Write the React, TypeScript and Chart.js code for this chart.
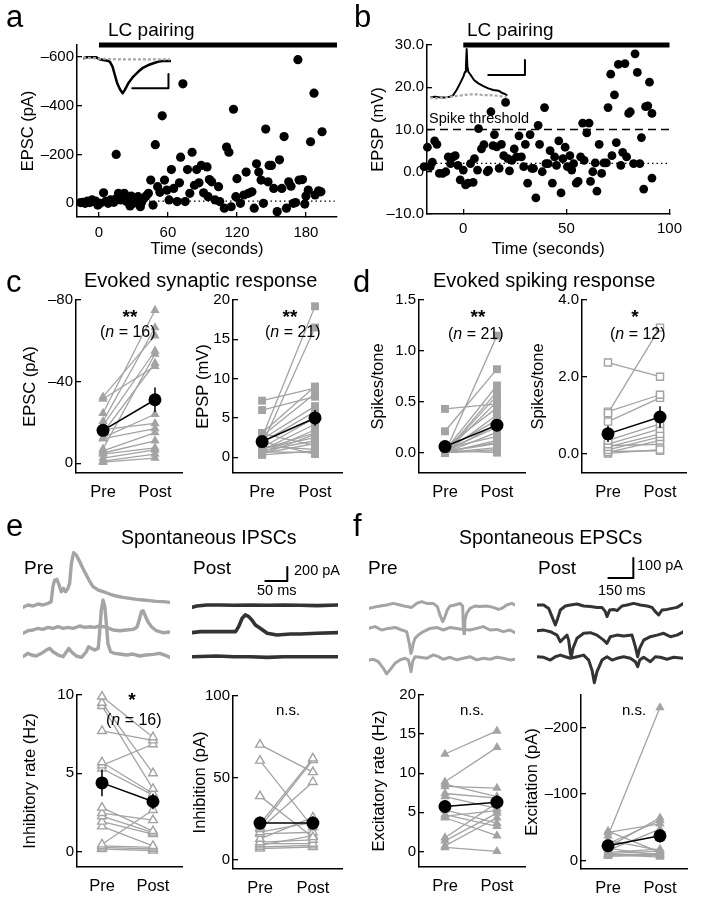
import React, { useEffect, useMemo, useRef } from "react";
import { Chart, registerables } from "chart.js";

Chart.register(...registerables);

const FONT = "'Liberation Sans', Arial, Helvetica, sans-serif";
const GREY = "#a3a3a3";
const PRE_TRACE = "#a4a4a4";
const POST_TRACE = "#333333";

// ================= Panel a: EPSC over time =================
const aTime = [-16,-14,-12,-10,-8,-6,-4,-3,-1,1,4,6,8,10,13,14,15,17,19,22,24,26,27,28,30,31,34,36,37,39,41,43,45,47,49,51,53,55,57,59,61,63,65,68,70,71,73,75,77,79,81,83,85,87,89,91,94,95,96,98,101,104,105,109,111,113,115,117,119,120,123,126,128,130,133,135,137,139,141,143,145,147,148,150,152,155,157,159,161,163,165,167,169,171,173,174,177,179,180,182,184,187,188,191,193,194];
const aEpsc = [-3,-4,0,-9,-3,-14,-7,-9,7,0,-43,-8,0,-14,-4,-16,-200,-41,-14,-41,-7,-16,11,-30,0,-7,-27,14,-3,-20,-30,-41,-95,7,-240,-68,-45,-358,-95,-54,-14,-138,-61,-7,-84,-189,-489,-7,-138,-41,-209,-74,-138,-84,-155,-43,-149,-27,-97,-88,-14,-68,-7,20,-230,-209,14,-385,-27,-101,0,-34,-128,-41,-47,20,-162,-128,-95,0,-304,-88,-155,-155,-61,34,-178,-61,-273,20,-88,-70,0,-3,-588,-95,-97,3,-30,-54,-252,-451,-34,-51,-47,-293];
const aTimeTicks = [0, 60, 120, 180];
const aEpscTicks = [-600, -400, -200, 0];
const aBaseline = -9;
const aPairingStart = 0;
const aPairingEnd = 207;
// inset (ms, pA)
const aInsetPostT = [0,1.9,4.6,7.4,9.3,11.1,13,14.8,16.3,17.6,18.9,20.4,21.9,23.1,25,27.8,30.6,33.3,36.1,38.9,41.7,44.4,47.2,48.1];
const aInsetPostV = [0,7,7,7,-7,-12,-16,-23,-58,-117,-175,-217,-245,-221,-175,-128,-93,-65,-47,-35,-23,-19,-19,-19];
const aInsetPreT = [0,9,19,28,37,48];
const aInsetPreV = [5,-2,-7,-7,-7,-7];
const aInsetBar = { start: 27.2, level: -210, ms: 20, amp: 100 };

// ================= Panel b: EPSP over time =================
const bTime = [-19.6,-19,-17.4,-16,-15,-13.9,-12.8,-11.6,-10,-8.5,-7.3,-6.2,-4.9,-3.9,-2.6,-1.5,0,1.1,2.3,3.5,4.8,5.4,6.9,7.4,8.8,10,11.6,12.3,13.4,14.4,15.1,16.2,17.4,18.5,19.6,20.5,21.6,22.4,23.6,24.7,25.8,27,28.2,29.3,30.1,31.2,32.4,33.2,34,35.2,36.3,37,38.3,39.4,40.1,41.2,42.1,43.2,44.3,45.2,46.3,47.4,48.3,49.4,50.5,51.7,52.6,53.5,54.8,55.7,56.9,57.9,58.6,59.9,61,61.7,62.8,64,64.8,65.9,67.1,68.2,69.4,70.2,71.5,72.1,73.3,74.2,75.2,76.4,77.3,78.4,79.2,80.2,81,82.6,83.3,84.4,85.6,86.4,87.5,88.4,89.5,90.3,91.5,91.5];
const bEpsp = [3.1,1.2,5.8,1.2,2.3,7.3,6.5,-0.4,-0.4,0,3.5,1.9,3.5,3.8,1.5,-1.9,0.4,-3.1,-2.7,1.9,-2.5,3.1,0.4,10.2,5.4,6.4,0,0.4,14.2,6.2,8.8,5.9,0.8,6.5,3.8,16.4,3.1,0.2,2.7,5.4,3.5,8.5,3.5,1.2,6.5,-2.7,8.8,0.8,0.8,-6.2,11,6.5,0,15.2,1.9,1.9,5,-2.7,3.5,1.5,7.3,-5,3.1,5.8,1.2,3.8,0.4,1.9,-2.7,-2.3,3.5,11.5,2.7,9.2,11.5,-2.3,0,2.1,-4.6,6.5,-0.4,2.1,2.1,15.2,23.1,3.8,18.2,6.9,25.4,1.5,4.6,25.6,3.5,13.8,14.2,1.9,27.9,23.5,1.9,8.1,-4.1,15.4,15.6,21.2,13.8,-1.5];
const bTimeTicks = [0, 50, 100];
const bEpspTicks = [-10, 0, 10, 20, 30];
const bBaseline = 2.0;
const bSpikeThreshold = 10;
const bPairingStart = 0;
const bPairingEnd = 100;
// inset (ms, mV)
const bInsetPostT = [0,2.7,5.5,8.2,10.9,12.7,14.5,16.4,18.2,19.1,19.6,20,20.4,20.9,22.2,24,26.4,29.1,31.8,34.5,37.3,39.1,40.9,41.8];
const bInsetPostV = [-0.9,0,-0.9,-0.9,0,2.2,8.9,17.8,26.7,33.3,40,63.6,40,33.3,28.9,22.2,17.8,14.2,11.1,8.9,8,5.3,3.6,2.2];
const bInsetPreT = [0,3.6,7.3,10.9,14.5,18.2,21.8,25.5,29.1,32.7,36.4,40,41.8];
const bInsetPreV = [-0.9,-2.2,-1.3,0,0.9,2.2,3.1,3.1,2.2,2.2,1.3,0,0];
const bInsetBar = { start: 31.8, level: 28.9, ms: 20, amp: 20 };

// ================= Panel c =================
const c1Pre = [-32.5,-31.5,-24.5,-20.5,-18.5,-16.5,-15,-12.5,-12,-7,-6,-5,-4.5,-2.5,-1,-0.5];
const c1Post = [-62.5,-47.5,-75,-66.5,-55,-19.5,-49,-24,-17,-53.5,-15,-11,-7.5,-6.5,-4.5,-2.5];
const c1Mean = [-16.1, -31.1];
const c1Sem = [2.5, 6];
const c2Pre = [7.2,6.0,2.5,1.6,3.1,2.7,2.3,1.9,1.25,0.9,0.6,0.4,1.1,0.8,0.5,3.0,1.4,0.7,2.0,0.3,1.0];
const c2Post = [8.8,7.7,19.2,16.5,9.0,8.1,6.5,5.8,5.0,4.2,3.5,2.9,2.5,2.1,1.75,1.5,1.0,0.6,0.4,0.8,3.1];
const c2Mean = [2.0, 5.0];
const c2Sem = [0.4, 1.0];

// ================= Panel d =================
const d1Pre = [0.43,0.0,0.21,0.02,0.0,0.05,0.0,0.03,0.0,0.02,0.0,0.04,0.0,0.01,0.0,0.0,0.02,0.0,0.0,0.0,0.01];
const d1Post = [0.48,1.15,0.82,0.66,0.56,0.44,0.37,0.32,0.28,0.25,0.2,0.16,0.12,0.09,0.05,0.02,0.0,0.6,0.5,0.03,0.1];
const d1Mean = [0.06, 0.27];
const d1Sem = [0.02, 0.06];
const d2Pre = [2.37,1.05,1.09,0.83,0.34,0.24,0.17,0.09,0.03,0.0,0.2,0.05];
const d2Post = [2.0,3.28,1.53,1.45,0.77,0.64,0.51,0.43,0.34,0.1,0.24,0.07];
const d2Mean = [0.51, 0.95];
const d2Sem = [0.21, 0.28];

// ================= Panel e =================
const e1Pre = [9.9,9.5,9.3,7.7,5.7,5.5,5.3,2.8,2.45,2.25,1.9,1.6,0.45,0.35,0.25,0.15];
const e1Post = [7.3,5.0,4.0,7.1,3.7,6.85,3.6,1.3,2.0,1.2,1.1,0.35,2.65,0.25,0.15,0.05];
const e1Mean = [4.38, 3.19];
const e1Sem = [0.85, 0.5];
const e2Pre = [70.4,60.6,39,22,20,19,17,16,13,11,10,9,8,7];
const e2Post = [53.6,20,14,62,61,47.6,23,17,26,12.4,10,15,9,8];
const e2Mean = [22.6, 22.6];
const e2Sem = [4, 4];
// spontaneous IPSC traces (ms, pA)
const ePre1T = [0,11,23,34,45,57,64,68,72,77,82,87,92,97,102,106,110,115,121,129,136,144,152,159,171,182,197,212,227,243,258,273,288,303,318,334];
const ePre1V = [-33,0,-14,14,0,24,48,262,357,367,286,190,238,190,238,309,595,747,714,619,524,428,333,262,214,190,157,128,109,95,81,71,62,52,48,38];
const ePre2T = [0,11,23,34,45,57,68,80,91,102,114,129,140,152,163,174,190,205,220,235,250,259,264,269,273,277,284,292,303,318,334];
const ePre2V = [-38,0,10,33,19,48,33,57,33,48,33,67,48,57,48,67,48,10,0,10,19,48,152,271,286,224,129,57,0,-29,-19];
const ePre3T = [0,11,19,30,42,53,61,68,80,91,99,104,110,121,133,144,149,155,163,171,174,178,182,186,190,193,199,208,220,235,250,265,280,296,311,322,334];
const ePre3V = [0,48,24,10,48,95,119,71,24,0,71,119,71,10,-10,71,143,119,95,119,333,666,809,714,428,190,71,48,38,24,38,10,24,33,48,24,-10];
const ePost1T = [0,11,34,64,95,133,171,208,246,284,334];
const ePost1V = [-19,0,14,14,10,14,10,14,10,5,14];
const ePost2T = [0,19,49,80,99,106,114,121,129,136,144,155,171,193,224,246,284,334];
const ePost2V = [10,24,24,24,24,95,214,262,238,190,119,71,0,-24,-10,-10,0,10];
const ePost3T = [0,57,95,133,171,208,246,284,334];
const ePost3V = [0,10,0,0,-10,0,0,0,0];
const eBar = { start: 166.6, level: 357, ms: 50, amp: 200 };

// ================= Panel f =================
const f1Pre = [12.45,8.9,8.3,7.4,7.0,5.3,4.7,4.3,1.75,1.35,0.7,0.5,4.5,8.6];
const f1Post = [15.4,13.3,8.1,6.8,5.5,3.6,3.2,2.0,6.2,4.9,4.3,0.0,5.2,7.0];
const f1Mean = [5.74, 6.29];
const f1Sem = [0.8, 0.9];
const f2Pre = [-37,-42,-25,-20,-15,-12,-10,-7.4,-44,-30,-18,-9,-8,-6];
const f2Post = [-230,-55,-60,-64,-47,-17,-14,-10,-12,-15,-7.4,-5,-10,-8];
const f2Mean = [-22, -37];
const f2Sem = [3, 10];
// spontaneous EPSC traces (ms, pA)
const fPre1T = [0,26,66,106,146,186,226,256,286,316,346,386,410,426,442,456,470,486,516,546,562,566,572,576,586,606,636,666,706,746,776,796,826,856,876];
const fPre1V = [-17,-12,-5,0,8,0,-8,-12,8,17,8,8,-8,-50,-83,-58,-25,-5,0,8,-5,-108,-158,-75,-42,-17,-5,-8,-5,-12,-22,-17,0,8,0];
const fPre2T = [0,36,76,116,156,196,226,242,252,258,266,276,296,326,366,406,446,486,526,566,606,646,686,726,766,806,846,876];
const fPre2V = [8,17,0,8,13,0,-8,-67,-117,-100,-67,-42,-25,-8,8,13,0,13,8,3,0,8,17,0,3,-8,0,-13];
const fPre3T = [0,26,56,86,106,126,156,186,216,236,246,252,262,276,306,346,386,416,446,486,526,566,606,646,686,726,766,806,846,876];
const fPre3V = [-8,-5,-17,-50,-78,-58,-25,-8,0,-8,-42,-67,-17,8,5,0,17,8,-5,5,-8,0,8,-8,0,-5,5,0,-8,-5];
const fPost1T = [0,40,70,90,110,124,140,170,200,240,280,320,360,390,410,420,436,460,480,510,540,580,620,660,690,710,730,750,780,810,840,880];
const fPost1V = [0,0,-17,-58,-100,-67,-25,-5,0,5,-5,-8,-12,-12,-33,-58,-25,-22,-28,-5,0,8,0,-5,-12,-33,-50,-25,-22,-17,-12,8];
const fPost2T = [0,40,80,120,140,160,180,190,200,206,216,240,280,320,360,400,420,440,480,520,570,590,604,616,640,680,720,760,800,840,880];
const fPost2V = [5,8,0,-17,-50,-33,-17,-42,-108,-125,-83,-33,-8,-5,-17,-42,-58,-25,-17,-22,-17,-75,-125,-83,-42,-25,-17,-8,-25,-17,0];
const fPost3T = [0,40,80,110,140,170,200,240,280,310,330,344,360,390,420,450,480,520,560,590,604,616,640,680,710,740,780,820,880];
const fPost3V = [0,-3,-17,0,8,0,-8,0,8,-17,-67,-130,-75,-17,0,-17,-8,0,-8,-25,-50,-17,-3,-25,0,-3,-13,-3,-8];
const fBar = { start: 428, level: 135, ms: 150, amp: 100 };

// ================= helpers =================
const T_PAD = 14;
const R_PAD = 12;
const TITLE_SIZE = 16.5;

type Spec = { left: number; top: number; width: number; height: number; make: () => any };

const dashNum = (v: number, digits = -1) => {
  const s = digits >= 0 ? Math.abs(v).toFixed(digits) : String(Math.abs(v));
  return v < 0 ? "\u2013" + s : s;
};

function baseOptions(padding: any, scales: any) {
  return {
    responsive: false,
    maintainAspectRatio: false,
    animation: false,
    events: [],
    layout: { padding, autoPadding: false },
    plugins: { legend: { display: false }, tooltip: { enabled: false }, title: { display: false } },
    scales,
  };
}

function yAxis(o: { min: number; max: number; reverse?: boolean; ticks: number[]; fmt: (v: number) => string; title: string; width: number }) {
  return {
    type: "linear",
    position: "left",
    min: o.min,
    max: o.max,
    reverse: !!o.reverse,
    afterBuildTicks: (s: any) => {
      s.ticks = o.ticks.map((v) => ({ value: v }));
    },
    afterFit: (s: any) => {
      s.width = o.width;
    },
    grid: { display: true, drawOnChartArea: false, drawTicks: true, tickLength: -5, color: "#000", lineWidth: 1.3 },
    border: { display: true, color: "#000", width: 1.5 },
    ticks: { color: "#000", font: { family: FONT, size: 15 }, padding: 8, autoSkip: false, callback: (v: any) => o.fmt(Number(v)) },
    title: { display: true, text: o.title, color: "#000", font: { family: FONT, size: TITLE_SIZE }, padding: 0 },
  };
}

function xTimeAxis(min: number, max: number, ticks: number[], height: number, pad: number) {
  return {
    type: "linear",
    position: "bottom",
    min,
    max,
    afterBuildTicks: (s: any) => {
      s.ticks = ticks.map((v) => ({ value: v }));
    },
    afterFit: (s: any) => {
      s.height = height;
    },
    grid: { display: true, drawOnChartArea: false, drawTicks: true, tickLength: -5, color: "#000", lineWidth: 1.3 },
    border: { display: true, color: "#000", width: 1.5 },
    ticks: { color: "#000", font: { family: FONT, size: 15 }, padding: pad, autoSkip: false, maxRotation: 0, callback: (v: any) => String(v) },
    title: { display: true, text: "Time (seconds)", color: "#000", font: { family: FONT, size: TITLE_SIZE }, padding: 0 },
  };
}

function xCatAxis(min: number, max: number, height: number) {
  return {
    type: "linear",
    position: "bottom",
    min,
    max,
    afterBuildTicks: (s: any) => {
      s.ticks = [{ value: 0 }, { value: 1 }];
    },
    afterFit: (s: any) => {
      s.height = height;
    },
    grid: { display: false, drawTicks: false },
    border: { display: true, color: "#000", width: 1.5 },
    ticks: {
      color: "#000",
      font: { family: FONT, size: TITLE_SIZE },
      padding: 9.5,
      autoSkip: false,
      maxRotation: 0,
      callback: (v: any) => (Number(v) === 0 ? "Pre" : Number(v) === 1 ? "Post" : ""),
    },
  };
}

function frame(x0: number, y0: number, x1: number, y1: number, titleX: number, B: number) {
  const L = Math.round(x0 - titleX + (TITLE_SIZE * 1.2) / 2);
  return { left: x0 - L, top: y0 - T_PAD, width: x1 - x0 + L + R_PAD, height: y1 - y0 + T_PAD + B, L, B };
}

const pts = (xs: number[], ys: number[]) => xs.map((x, i) => ({ x, y: ys[i] }));

interface PairDef {
  area: [number, number, number, number];
  titleX: number;
  xRange: [number, number];
  yRange: [number, number];
  reverse?: boolean;
  ticks: number[];
  fmt: (v: number) => string;
  title: string;
  pre: number[];
  post: number[];
  mean: number[];
  sem: number[];
  marker: "triangle" | "rect";
  open: boolean;
}

function pairSpec(d: PairDef): Spec {
  const [x0, y0, x1, y1] = d.area;
  const f = frame(x0, y0, x1, y1, d.titleX, 40);
  const make = () => {
    const radius = d.marker === "rect" ? (d.open ? 5.0 : 5.6) : d.open ? 5.0 : 5.4;
    const datasets: any[] = [
      {
        data: [{ x: 0, y: d.mean[0] }, { x: 1, y: d.mean[1] }],
        showLine: true, borderColor: "#000", borderWidth: 1.5, pointRadius: 6.5,
        pointBackgroundColor: "#000", pointBorderWidth: 0, clip: false, order: 0,
      },
      {
        data: [{ x: 0, y: d.mean[0] - d.sem[0] }, { x: 0, y: d.mean[0] + d.sem[0] }],
        showLine: true, borderColor: "#000", borderWidth: 1.5, pointRadius: 0, clip: false, order: 1,
      },
      {
        data: [{ x: 1, y: d.mean[1] - d.sem[1] }, { x: 1, y: d.mean[1] + d.sem[1] }],
        showLine: true, borderColor: "#000", borderWidth: 1.5, pointRadius: 0, clip: false, order: 1,
      },
      ...d.pre.map((v, i) => ({
        data: [{ x: 0, y: v }, { x: 1, y: d.post[i] }],
        showLine: true, borderColor: GREY, borderWidth: 1.3,
        pointStyle: d.marker, pointRadius: radius,
        pointBackgroundColor: d.open ? "#fff" : GREY,
        pointBorderColor: GREY, pointBorderWidth: d.open ? 1.4 : 0,
        clip: false, order: 2,
      })),
    ];
    return {
      type: "scatter",
      data: { datasets },
      options: baseOptions({ top: T_PAD, right: R_PAD, left: 0, bottom: 0 }, {
        x: xCatAxis(d.xRange[0], d.xRange[1], f.B),
        y: yAxis({ min: d.yRange[0], max: d.yRange[1], reverse: d.reverse, ticks: d.ticks, fmt: d.fmt, title: d.title, width: f.L }),
      }),
    };
  };
  return { left: f.left, top: f.top, width: f.width, height: f.height, make };
}

interface Series { t: number[]; v: number[]; color: string; width: number; dash?: number[] }
interface TraceDef { x0: number; x1: number; base: number; above: number; below: number; xPerPx: number; yPerPx: number; series: Series[] }

function traceSpec(d: TraceDef): Spec {
  const left = Math.round(d.x0);
  const right = Math.round(d.x1);
  const top = Math.round(d.base - d.above);
  const bottom = Math.round(d.base + d.below);
  const make = () => ({
    type: "scatter",
    data: {
      datasets: d.series.map((s) => ({
        data: pts(s.t, s.v),
        showLine: true, borderColor: s.color, borderWidth: s.width, borderDash: s.dash || [],
        pointRadius: 0, clip: false, borderJoinStyle: "round", borderCapStyle: s.dash ? "butt" : "round",
      })),
    },
    options: baseOptions(0, {
      x: { type: "linear", display: false, min: 0, max: (right - left) * d.xPerPx },
      y: { type: "linear", display: false, min: -(bottom - d.base) * d.yPerPx, max: (d.base - top) * d.yPerPx },
    }),
  });
  return { left, top, width: right - left, height: bottom - top, make };
}

const barSeries = (b: { start: number; level: number; ms: number; amp: number }): Series => ({
  t: [b.start, b.start + b.ms, b.start + b.ms],
  v: [b.level, b.level, b.level + b.amp],
  color: "#000",
  width: 2,
});

function buildSpecs(): Spec[] {
  const specs: Spec[] = [];

  // ---- panel a
  {
    const x0 = 77, y0 = 42, x1 = 337, y1 = 217;
    const f = frame(x0, y0, x1, y1, 29, 42);
    const xMin = -19.1, xMax = aPairingEnd;
    const yMin = -648, yMax = 56;
    specs.push({
      left: f.left, top: f.top, width: f.width, height: f.height,
      make: () => ({
        type: "scatter",
        data: {
          datasets: [
            { data: pts(aTime, aEpsc), pointRadius: 4.6, pointBackgroundColor: "#000", pointBorderWidth: 0, clip: false, order: 0 },
            { data: [{ x: xMin, y: aBaseline }, { x: 205, y: aBaseline }], showLine: true, borderColor: "#000", borderWidth: 1.3, borderDash: [1.5, 3], pointRadius: 0, order: 1 },
            { data: [{ x: aPairingStart, y: yMin }, { x: aPairingEnd, y: yMin }], showLine: true, borderColor: "#000", borderWidth: 5, pointRadius: 0, clip: false, order: 2 },
          ],
        },
        options: baseOptions({ top: T_PAD, right: R_PAD, left: 0, bottom: 0 }, {
          x: xTimeAxis(xMin, xMax, aTimeTicks, f.B, 11.5),
          y: yAxis({ min: yMin, max: yMax, reverse: true, ticks: aEpscTicks, fmt: (v) => dashNum(v), title: "EPSC (pA)", width: f.L }),
        }),
      }),
    });
    specs.push(traceSpec({
      x0: 83, x1: 171, base: 58.3, above: 4.3, below: 37.7, xPerPx: 48.6 / 88, yPerPx: 7,
      series: [
        { t: aInsetPreT, v: aInsetPreV, color: "#a8a8a8", width: 2.2, dash: [3, 2] },
        { t: aInsetPostT, v: aInsetPostV, color: "#000", width: 2.5 },
        barSeries(aInsetBar),
      ],
    }));
  }

  // ---- panel b
  {
    const x0 = 427, y0 = 42, x1 = 681, y1 = 214;
    const f = frame(x0, y0, x1, y1, 379, 45);
    const xMin = -17.6, xMax = 100;
    const yMin = -10, yMax = 30;
    specs.push({
      left: f.left, top: f.top, width: f.width, height: f.height,
      make: () => ({
        type: "scatter",
        data: {
          datasets: [
            { data: pts(bTime, bEpsp), pointRadius: 4.4, pointBackgroundColor: "#000", pointBorderWidth: 0, clip: false, order: 0 },
            { data: [{ x: xMin, y: bBaseline }, { x: xMax, y: bBaseline }], showLine: true, borderColor: "#000", borderWidth: 1.3, borderDash: [1.5, 3], pointRadius: 0, order: 1 },
            { data: [{ x: xMin, y: bSpikeThreshold }, { x: xMax, y: bSpikeThreshold }], showLine: true, borderColor: "#000", borderWidth: 1.4, borderDash: [8, 5], pointRadius: 0, order: 1 },
            { data: [{ x: bPairingStart, y: yMax }, { x: bPairingEnd, y: yMax }], showLine: true, borderColor: "#000", borderWidth: 5, pointRadius: 0, clip: false, order: 2 },
          ],
        },
        options: baseOptions({ top: T_PAD, right: R_PAD, left: 0, bottom: 0 }, {
          x: xTimeAxis(xMin, xMax, bTimeTicks, f.B, 11),
          y: yAxis({ min: yMin, max: yMax, ticks: bEpspTicks, fmt: (v) => dashNum(v, 1), title: "EPSP (mV)", width: f.L }),
        }),
      }),
    });
    specs.push(traceSpec({
      x0: 430, x1: 526, base: 96.7, above: 52.7, below: 3.3, xPerPx: 1 / 1.833, yPerPx: 1.333,
      series: [
        { t: bInsetPreT, v: bInsetPreV, color: "#a8a8a8", width: 2.2, dash: [3, 2] },
        { t: bInsetPostT, v: bInsetPostV, color: "#000", width: 2 },
        barSeries(bInsetBar),
      ],
    }));
  }

  // ---- panels c, d, e, f summary plots
  const int = (v: number) => dashNum(v);
  const one = (v: number) => dashNum(v, 1);
  specs.push(pairSpec({ area: [76, 297, 182, 473], titleX: 31, xRange: [-0.52, 1.52], yRange: [-80, 4.8], reverse: true, ticks: [-80, -40, 0], fmt: int, title: "EPSC (pA)", pre: c1Pre, post: c1Post, mean: c1Mean, sem: c1Sem, marker: "triangle", open: false }));
  specs.push(pairSpec({ area: [233, 297, 342, 473], titleX: 204, xRange: [-0.55, 1.51], yRange: [-2, 20], ticks: [0, 5, 10, 15, 20], fmt: int, title: "EPSP (mV)", pre: c2Pre, post: c2Post, mean: c2Mean, sem: c2Sem, marker: "rect", open: false }));
  specs.push(pairSpec({ area: [419, 297, 525, 473], titleX: 379, xRange: [-0.5, 1.54], yRange: [-0.2, 1.5], ticks: [0, 0.5, 1, 1.5], fmt: one, title: "Spikes/tone", pre: d1Pre, post: d1Post, mean: d1Mean, sem: d1Sem, marker: "rect", open: false }));
  specs.push(pairSpec({ area: [582, 297, 686, 473], titleX: 539, xRange: [-0.5, 1.5], yRange: [-0.51, 4], ticks: [0, 2, 4], fmt: one, title: "Spikes/tone", pre: d2Pre, post: d2Post, mean: d2Mean, sem: d2Sem, marker: "rect", open: true }));
  specs.push(pairSpec({ area: [77, 692, 182, 867], titleX: 31, xRange: [-0.49, 1.57], yRange: [-1, 10], ticks: [0, 5, 10], fmt: int, title: "Inhibitory rate (Hz)", pre: e1Pre, post: e1Post, mean: e1Mean, sem: e1Sem, marker: "triangle", open: true }));
  specs.push(pairSpec({ area: [233, 693, 342, 869], titleX: 201, xRange: [-0.51, 1.55], yRange: [-5.4, 100], ticks: [0, 50, 100], fmt: int, title: "Inhibition (pA)", pre: e2Pre, post: e2Post, mean: e2Mean, sem: e2Sem, marker: "triangle", open: true }));
  specs.push(pairSpec({ area: [419, 692, 525, 867], titleX: 380, xRange: [-0.5, 1.54], yRange: [-2, 20], ticks: [0, 5, 10, 15, 20], fmt: int, title: "Excitatory rate (Hz)", pre: f1Pre, post: f1Post, mean: f1Mean, sem: f1Sem, marker: "triangle", open: false }));
  specs.push(pairSpec({ area: [581, 692, 687, 869], titleX: 533, xRange: [-0.52, 1.52], yRange: [-249, 13], reverse: true, ticks: [-200, -100, 0], fmt: int, title: "Excitation (pA)", pre: f2Pre, post: f2Post, mean: f2Mean, sem: f2Sem, marker: "triangle", open: false }));

  // ---- traces e (IPSCs): 50 ms / 22 px, 200 pA / 14 px
  const eX = 50 / 22, eY = 200 / 14;
  const ePreRows = [
    { base: 605, t: ePre1T, v: ePre1V },
    { base: 630.7, t: ePre2T, v: ePre2V },
    { base: 656.7, t: ePre3T, v: ePre3V },
  ];
  ePreRows.forEach((r) => specs.push(traceSpec({ x0: 23, x1: 170, base: r.base, above: 60, below: 20, xPerPx: eX, yPerPx: eY, series: [{ t: r.t, v: r.v, color: PRE_TRACE, width: 3.4 }] })));
  const ePostRows = [
    { base: 606, t: ePost1T, v: ePost1V, bar: true },
    { base: 633.3, t: ePost2T, v: ePost2V, bar: false },
    { base: 656.7, t: ePost3T, v: ePost3V, bar: false },
  ];
  ePostRows.forEach((r) => {
    const series: Series[] = [{ t: r.t, v: r.v, color: POST_TRACE, width: 3.6 }];
    if (r.bar) series.push(barSeries(eBar));
    specs.push(traceSpec({ x0: 191.7, x1: 338.3, base: r.base, above: 60, below: 20, xPerPx: eX, yPerPx: eY, series }));
  });

  // ---- traces f (EPSCs): 150 ms / 25 px, 100 pA / 20 px
  const fX = 6, fY = 5;
  const fPreRows = [
    { base: 605, t: fPre1T, v: fPre1V },
    { base: 630, t: fPre2T, v: fPre2V },
    { base: 658.3, t: fPre3T, v: fPre3V },
  ];
  fPreRows.forEach((r) => specs.push(traceSpec({ x0: 369, x1: 515, base: r.base, above: 50, below: 30, xPerPx: fX, yPerPx: fY, series: [{ t: r.t, v: r.v, color: PRE_TRACE, width: 3 }] })));
  const fPostRows = [
    { base: 605, t: fPost1T, v: fPost1V, bar: true },
    { base: 631.7, t: fPost2T, v: fPost2V, bar: false },
    { base: 656.7, t: fPost3T, v: fPost3V, bar: false },
  ];
  fPostRows.forEach((r) => {
    const series: Series[] = [{ t: r.t, v: r.v, color: POST_TRACE, width: 3 }];
    if (r.bar) series.push(barSeries(fBar));
    specs.push(traceSpec({ x0: 536.7, x1: 683.3, base: r.base, above: 50, below: 30, xPerPx: fX, yPerPx: fY, series }));
  });

  return specs;
}

function Label(props: { x: number; y: number; size: number; anchor?: "start" | "middle"; bold?: boolean; children: any }) {
  const { x, y, size, anchor = "start", bold = false, children } = props;
  return (
    <div
      style={{
        position: "absolute",
        left: x,
        top: y - 0.8465 * size,
        fontSize: size,
        lineHeight: 1,
        fontFamily: FONT,
        fontWeight: bold ? 700 : 400,
        whiteSpace: "nowrap",
        color: "#000",
        transform: anchor === "middle" ? "translateX(-50%)" : undefined,
      }}
    >
      {children}
    </div>
  );
}

const N = (props: { n: number }) => (
  <>
    (<i>n</i> = {props.n})
  </>
);

export default function App() {
  const specs = useMemo(buildSpecs, []);
  const refs = useRef<(HTMLCanvasElement | null)[]>([]);

  useEffect(() => {
    const charts: Chart[] = [];
    specs.forEach((s, i) => {
      const c = refs.current[i];
      if (c) charts.push(new Chart(c, s.make()));
    });
    return () => charts.forEach((c) => c.destroy());
  }, [specs]);

  return (
    <div style={{ position: "absolute", left: 0, top: 0, width: 701, height: 900, background: "#fff", overflow: "hidden" }}>
      {specs.map((s, i) => (
        <canvas
          key={i}
          ref={(el) => {
            refs.current[i] = el;
          }}
          width={s.width}
          height={s.height}
          style={{ position: "absolute", left: s.left, top: s.top, width: s.width, height: s.height }}
        />
      ))}

      <Label x={6} y={27} size={31}>a</Label>
      <Label x={108} y={36.5} size={19}>LC pairing</Label>
      <Label x={354} y={27} size={31}>b</Label>
      <Label x={467} y={36} size={19}>LC pairing</Label>
      <Label x={429} y={123} size={14.5}>Spike threshold</Label>

      <Label x={6} y={292} size={31}>c</Label>
      <Label x={84} y={287} size={20}>Evoked synaptic response</Label>
      <Label x={130} y={323} size={19} anchor="middle" bold>**</Label>
      <Label x={100} y={338} size={16}><N n={16} /></Label>
      <Label x={290} y={323} size={19} anchor="middle" bold>**</Label>
      <Label x={265} y={338} size={16}><N n={21} /></Label>

      <Label x={353} y={292} size={31}>d</Label>
      <Label x={433} y={287} size={20}>Evoked spiking response</Label>
      <Label x={478} y={323} size={19} anchor="middle" bold>**</Label>
      <Label x={448} y={340} size={16}><N n={21} /></Label>
      <Label x={635} y={323} size={19} anchor="middle" bold>*</Label>
      <Label x={610} y={340} size={16}><N n={12} /></Label>

      <Label x={6} y={536} size={31}>e</Label>
      <Label x={121} y={545} size={19.5}>Spontaneous IPSCs</Label>
      <Label x={24} y={574} size={19}>Pre</Label>
      <Label x={193} y={574} size={19}>Post</Label>
      <Label x={294} y={575} size={14.5}>200 pA</Label>
      <Label x={257} y={595} size={14.5}>50 ms</Label>
      <Label x={132} y={706} size={19} anchor="middle" bold>*</Label>
      <Label x={106} y={726} size={16}><N n={16} /></Label>
      <Label x={288} y={715} size={15} anchor="middle">n.s.</Label>

      <Label x={353} y={536} size={31}>f</Label>
      <Label x={459} y={545} size={19.5}>Spontaneous EPSCs</Label>
      <Label x={368} y={574} size={19}>Pre</Label>
      <Label x={538} y={574} size={19}>Post</Label>
      <Label x={637} y={570} size={14.5}>100 pA</Label>
      <Label x={598} y={595} size={14.5}>150 ms</Label>
      <Label x={472} y={715} size={15} anchor="middle">n.s.</Label>
      <Label x={634} y={715} size={15} anchor="middle">n.s.</Label>
    </div>
  );
}
